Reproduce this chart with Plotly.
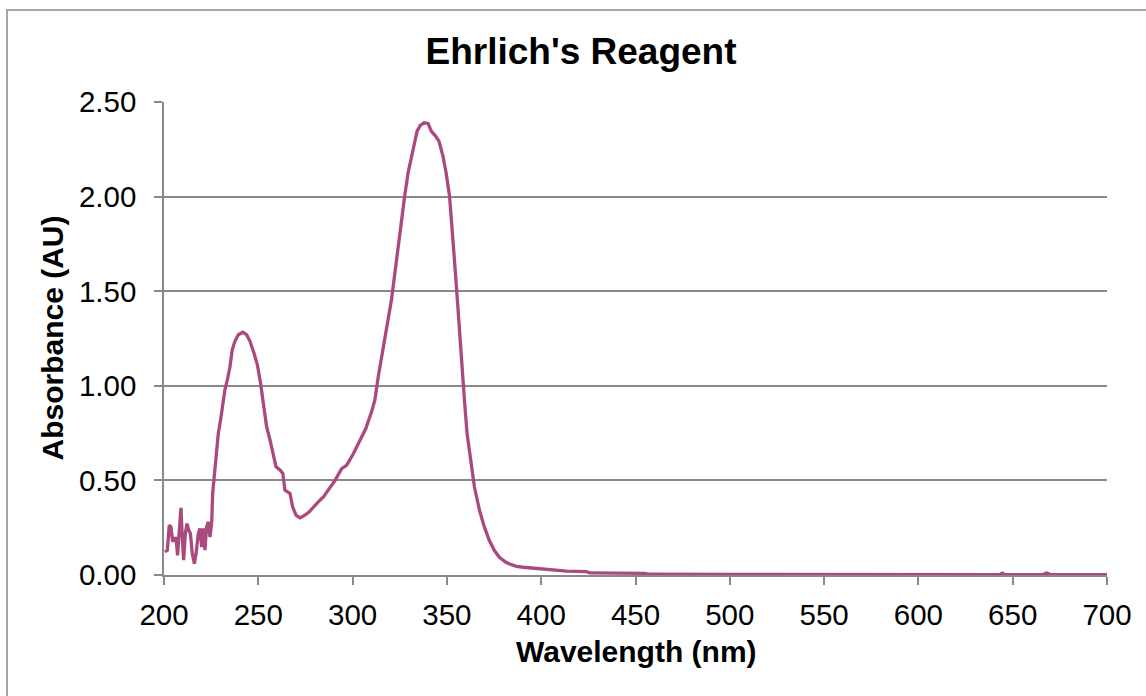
import plotly.graph_objects as go

wavelength = [
    200.5, 201.8, 202.8, 203.7, 204.6, 205.3, 206.4, 207.2, 208.0, 209.0,
    209.7, 210.4, 211.3, 212.2, 213.1, 214.0, 215.0, 216.1, 217.0, 218.2,
    219.1, 220.0, 220.8, 221.7, 222.6, 223.5, 224.4, 225.3, 225.8, 226.5,
    227.6, 228.8, 230.0, 231.1, 232.3, 233.6, 235.0, 236.2, 237.6, 239.4,
    241.7, 243.8, 245.6, 247.7, 249.5, 251.2, 252.7, 254.4, 256.2, 258.0,
    259.4, 261.5, 263.0, 264.1, 265.4, 266.8, 268.2, 270.0, 272.1, 274.7,
    277.0, 279.2, 281.8, 284.5, 287.1, 290.7, 294.2, 296.8, 300.4, 303.9,
    307.0, 310.0, 311.8, 313.6, 315.8, 318.0, 320.6, 322.4, 324.1, 325.9,
    327.6, 329.4, 331.2, 332.9, 334.2, 335.9, 337.9, 340.0, 341.7, 344.0,
    345.8, 347.9, 349.6, 351.4, 352.8, 354.0, 355.3, 356.7, 358.1, 359.3,
    360.7, 362.5, 364.6, 367.3, 369.9, 372.5, 375.2, 377.8, 381.3, 383.3,
    386.9, 390.4, 401.0, 413.5, 424.0, 425.8, 455.0, 457.0, 500.0, 600.0,
    643.0, 644.5, 646.0, 666.0, 668.0, 670.0, 700.0,
]
absorbance = [
    0.122, 0.131, 0.263, 0.254, 0.175, 0.193, 0.193, 0.104, 0.219, 0.355,
    0.201, 0.078, 0.219, 0.272, 0.237, 0.219, 0.113, 0.060, 0.113, 0.219,
    0.246, 0.148, 0.246, 0.131, 0.254, 0.281, 0.201, 0.281, 0.431, 0.502,
    0.643, 0.749, 0.820, 0.890, 0.979, 1.032, 1.102, 1.191, 1.235, 1.270,
    1.283, 1.270, 1.235, 1.173, 1.111, 1.014, 0.908, 0.784, 0.714, 0.625,
    0.572, 0.555, 0.537, 0.449, 0.440, 0.431, 0.360, 0.316, 0.302, 0.316,
    0.334, 0.360, 0.387, 0.413, 0.452, 0.500, 0.562, 0.580, 0.641, 0.712,
    0.774, 0.862, 0.924, 1.048, 1.171, 1.313, 1.454, 1.595, 1.737, 1.878,
    2.002, 2.125, 2.214, 2.284, 2.346, 2.376, 2.390, 2.387, 2.346, 2.320,
    2.293, 2.214, 2.125, 2.002, 1.843, 1.666, 1.489, 1.277, 1.065, 0.924,
    0.747, 0.606, 0.465, 0.341, 0.253, 0.182, 0.129, 0.094, 0.067, 0.058,
    0.046, 0.041, 0.032, 0.021, 0.018, 0.011, 0.009, 0.004, 0.003, 0.002,
    0.002, 0.010, 0.002, 0.002, 0.010, 0.002, 0.002,
]

title_text = "Ehrlich's Reagent"
x_title = "Wavelength (nm)"
y_title = "Absorbance (AU)"

FONT = "Liberation Sans, Arial, sans-serif"
GRID = "#898989"
LINE = "#A9497D"

fig = go.Figure()
fig.add_trace(go.Scatter(
    x=wavelength, y=absorbance, mode="lines",
    line=dict(color=LINE, width=3.3), showlegend=False,
))

W, H = 1146, 696
L, R, T, B = 164, 39, 102, 121
pw, ph = W - L - R, H - T - B

def px(X):
    return (X - L) / pw

def py(Y):
    return (H - B - Y) / ph

fig.update_layout(
    width=W, height=H,
    margin=dict(l=L, r=R, t=T, b=B, pad=0),
    paper_bgcolor="white", plot_bgcolor="white",
    font=dict(family=FONT, color="black"),
    title=dict(text="<b>" + title_text + "</b>", font=dict(size=37, family=FONT, color="black"),
               x=581 / W, xref="container", xanchor="center",
               y=1 - 51.3 / H, yref="container", yanchor="middle"),
    xaxis=dict(range=[200, 700], dtick=50, tick0=200, showgrid=False, zeroline=False,
               showline=True, linecolor=GRID, linewidth=1.6,
               ticks="outside", ticklen=8, tickwidth=1.6, tickcolor=GRID,
               tickfont=dict(size=29.5, family=FONT, color="black"),
               ticklabelstandoff=5),
    yaxis=dict(range=[0, 2.5], dtick=0.5, tick0=0, tickformat=".2f",
               showgrid=True, gridcolor=GRID, gridwidth=1.6, zeroline=False,
               showline=True, linecolor=GRID, linewidth=1.6,
               ticks="outside", ticklen=8, tickwidth=1.6, tickcolor=GRID,
               tickfont=dict(size=29.5, family=FONT, color="black"),
               ticklabelstandoff=12),
    annotations=[
        dict(text="<b>" + x_title + "</b>", xref="paper", yref="paper",
             x=px(636.7), y=py(651), xanchor="center", yanchor="middle",
             showarrow=False, font=dict(size=30, family=FONT, color="black")),
        dict(text="<b>" + y_title + "</b>", xref="paper", yref="paper",
             x=px(52), y=py(338.5), xanchor="center", yanchor="middle", textangle=-90,
             showarrow=False, font=dict(size=30, family=FONT, color="black")),
    ],
    shapes=[
        dict(type="rect", xref="paper", yref="paper",
             x0=px(7), x1=px(1160), y0=py(710), y1=py(10),
             line=dict(color="#A6A6A6", width=2), fillcolor="rgba(0,0,0,0)", layer="below"),
    ],
)

fig.write_html("out.html", config={"displayModeBar": False},
               post_script="document.body.style.margin='0';document.body.style.padding='0';")
